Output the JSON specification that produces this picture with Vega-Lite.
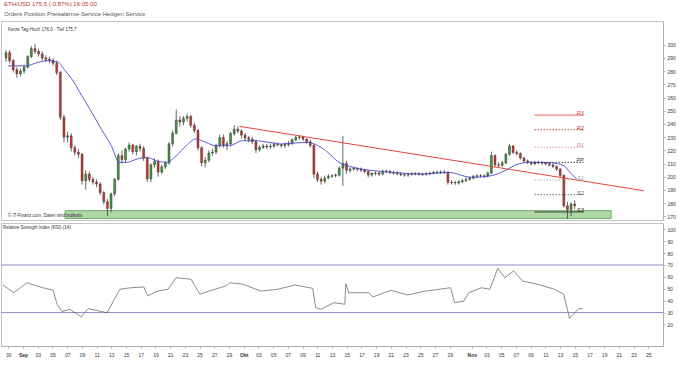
{
  "$schema": "https://vega.github.io/schema/vega-lite/v6.json",
  "padding": 0,
  "spacing": 1,
  "config": {
    "font": "Liberation Sans",
    "view": {"stroke": "#c4c4c4", "strokeWidth": 1},
    "axis": {"labelFontSize": 5, "labelColor": "#333", "domainColor": "#b0b0b0", "tickColor": "#b0b0b0", "tickSize": 2, "grid": false, "title": null}
  },
  "title": {
    "text": "ETH/USD    175,5  (-0,87%)   16:05:00",
    "subtitle": "Orders          Position          Preisalarme-Service          Hedgen Service",
    "anchor": "start", "fontSize": 6, "fontWeight": "normal", "color": "#c0392b",
    "subtitleFontSize": 6, "subtitleColor": "#555", "subtitlePadding": 4, "offset": 4, "dx": 4
  },
  "datasets": {
    "candles": [
      {"t":"2018-08-29T00:00","o":290,"h":296,"l":287,"c":294},
      {"t":"2018-08-29T12:00","o":294,"h":296,"l":286,"c":288},
      {"t":"2018-08-30T00:00","o":288,"h":289,"l":279,"c":281},
      {"t":"2018-08-30T12:00","o":281,"h":283,"l":275,"c":278},
      {"t":"2018-08-31T00:00","o":278,"h":282,"l":276,"c":280},
      {"t":"2018-08-31T12:00","o":280,"h":285,"l":278,"c":283},
      {"t":"2018-09-01T00:00","o":283,"h":292,"l":282,"c":291},
      {"t":"2018-09-01T12:00","o":291,"h":299,"l":290,"c":297},
      {"t":"2018-09-02T00:00","o":297,"h":300.5,"l":293,"c":295},
      {"t":"2018-09-02T12:00","o":295,"h":297,"l":291,"c":293},
      {"t":"2018-09-03T00:00","o":293,"h":295,"l":288,"c":290},
      {"t":"2018-09-03T12:00","o":290,"h":292,"l":287,"c":289},
      {"t":"2018-09-04T00:00","o":289,"h":291,"l":286,"c":288},
      {"t":"2018-09-04T12:00","o":288,"h":290,"l":284,"c":286},
      {"t":"2018-09-05T00:00","o":286,"h":288,"l":277,"c":279},
      {"t":"2018-09-05T12:00","o":279,"h":280,"l":243,"c":245},
      {"t":"2018-09-06T00:00","o":245,"h":247,"l":226,"c":230},
      {"t":"2018-09-06T12:00","o":230,"h":234,"l":226,"c":231},
      {"t":"2018-09-07T00:00","o":231,"h":233,"l":219,"c":222},
      {"t":"2018-09-07T12:00","o":222,"h":224,"l":216,"c":218.5},
      {"t":"2018-09-08T00:00","o":218.5,"h":221,"l":214,"c":217},
      {"t":"2018-09-08T12:00","o":217,"h":218,"l":194,"c":197},
      {"t":"2018-09-09T00:00","o":197,"h":205,"l":190,"c":202},
      {"t":"2018-09-09T12:00","o":202,"h":204,"l":196,"c":198},
      {"t":"2018-09-10T00:00","o":198,"h":200,"l":194,"c":196},
      {"t":"2018-09-10T12:00","o":196,"h":198,"l":192,"c":194.5},
      {"t":"2018-09-11T00:00","o":194.5,"h":196,"l":186,"c":188},
      {"t":"2018-09-11T12:00","o":188,"h":189,"l":179,"c":181},
      {"t":"2018-09-12T00:00","o":181,"h":183,"l":170,"c":176},
      {"t":"2018-09-12T12:00","o":176,"h":188,"l":173,"c":187},
      {"t":"2018-09-13T00:00","o":187,"h":199,"l":185,"c":198},
      {"t":"2018-09-13T12:00","o":198,"h":218,"l":197,"c":216},
      {"t":"2018-09-14T00:00","o":216,"h":220,"l":210,"c":213},
      {"t":"2018-09-14T12:00","o":213,"h":222,"l":211,"c":221},
      {"t":"2018-09-15T00:00","o":221,"h":226,"l":219,"c":224},
      {"t":"2018-09-15T12:00","o":224,"h":225,"l":217,"c":219},
      {"t":"2018-09-16T00:00","o":219,"h":224,"l":216,"c":223},
      {"t":"2018-09-16T12:00","o":223,"h":225,"l":219,"c":221.5},
      {"t":"2018-09-17T00:00","o":221.5,"h":223,"l":212,"c":214},
      {"t":"2018-09-17T12:00","o":214,"h":215,"l":196,"c":198.5},
      {"t":"2018-09-18T00:00","o":198.5,"h":210,"l":196,"c":209},
      {"t":"2018-09-18T12:00","o":209,"h":214,"l":207,"c":211.5},
      {"t":"2018-09-19T00:00","o":211.5,"h":213,"l":200,"c":203.5},
      {"t":"2018-09-19T12:00","o":203.5,"h":209,"l":202,"c":207.5},
      {"t":"2018-09-20T00:00","o":207.5,"h":212,"l":206,"c":210.5},
      {"t":"2018-09-20T12:00","o":210.5,"h":226,"l":209,"c":225},
      {"t":"2018-09-21T00:00","o":225,"h":235,"l":223,"c":233},
      {"t":"2018-09-21T12:00","o":233,"h":251,"l":232,"c":243},
      {"t":"2018-09-22T00:00","o":243,"h":246,"l":238,"c":241.5},
      {"t":"2018-09-22T12:00","o":241.5,"h":246,"l":239,"c":244.3},
      {"t":"2018-09-23T00:00","o":244.3,"h":248,"l":242,"c":245.7},
      {"t":"2018-09-23T12:00","o":245.7,"h":247,"l":237,"c":239},
      {"t":"2018-09-24T00:00","o":239,"h":241,"l":233,"c":235},
      {"t":"2018-09-24T12:00","o":235,"h":236,"l":220,"c":222},
      {"t":"2018-09-25T00:00","o":222,"h":223,"l":208,"c":210.6},
      {"t":"2018-09-25T12:00","o":210.6,"h":215,"l":207,"c":212.5},
      {"t":"2018-09-26T00:00","o":212.5,"h":220,"l":211,"c":218},
      {"t":"2018-09-26T12:00","o":218,"h":221,"l":216,"c":218.7},
      {"t":"2018-09-27T00:00","o":218.7,"h":225,"l":217,"c":223.7},
      {"t":"2018-09-27T12:00","o":223.7,"h":232,"l":222,"c":229.7},
      {"t":"2018-09-28T00:00","o":229.7,"h":232,"l":222,"c":224},
      {"t":"2018-09-28T12:00","o":224,"h":227,"l":220,"c":225},
      {"t":"2018-09-29T00:00","o":225,"h":234,"l":223,"c":232.7},
      {"t":"2018-09-29T12:00","o":232.7,"h":239,"l":231,"c":236},
      {"t":"2018-09-30T00:00","o":236,"h":238,"l":233,"c":234.6},
      {"t":"2018-09-30T12:00","o":234.6,"h":236,"l":229,"c":231.5},
      {"t":"2018-10-01T00:00","o":231.5,"h":233,"l":227,"c":229.4},
      {"t":"2018-10-01T12:00","o":229.4,"h":231,"l":226,"c":228.5},
      {"t":"2018-10-02T00:00","o":228.5,"h":230,"l":225,"c":226.6},
      {"t":"2018-10-02T12:00","o":226.6,"h":228,"l":218,"c":220.5},
      {"t":"2018-10-03T00:00","o":220.5,"h":224,"l":219,"c":222.2},
      {"t":"2018-10-03T12:00","o":222.2,"h":225,"l":221,"c":223.2},
      {"t":"2018-10-04T00:00","o":223.2,"h":225,"l":221,"c":222.6},
      {"t":"2018-10-04T12:00","o":222.6,"h":225,"l":221,"c":223},
      {"t":"2018-10-05T00:00","o":223,"h":226,"l":222,"c":224.5},
      {"t":"2018-10-05T12:00","o":224.5,"h":226,"l":223,"c":224.2},
      {"t":"2018-10-06T00:00","o":224.2,"h":225,"l":222,"c":223.6},
      {"t":"2018-10-06T12:00","o":223.6,"h":226,"l":222,"c":224.3},
      {"t":"2018-10-07T00:00","o":224.3,"h":227,"l":223,"c":225.3},
      {"t":"2018-10-07T12:00","o":225.3,"h":229,"l":224,"c":228},
      {"t":"2018-10-08T00:00","o":228,"h":231,"l":227,"c":229.8},
      {"t":"2018-10-08T12:00","o":229.8,"h":231.5,"l":228,"c":230.2},
      {"t":"2018-10-09T00:00","o":230.2,"h":231,"l":227,"c":228.5},
      {"t":"2018-10-09T12:00","o":228.5,"h":229,"l":225,"c":226.5},
      {"t":"2018-10-10T00:00","o":226.5,"h":228,"l":222,"c":223.7},
      {"t":"2018-10-10T12:00","o":223.7,"h":225,"l":199,"c":202},
      {"t":"2018-10-11T00:00","o":202,"h":204,"l":196,"c":198},
      {"t":"2018-10-11T12:00","o":198,"h":200,"l":194,"c":196.6},
      {"t":"2018-10-12T00:00","o":196.6,"h":201,"l":195,"c":199},
      {"t":"2018-10-12T12:00","o":199,"h":202,"l":198,"c":200.3},
      {"t":"2018-10-13T00:00","o":200.3,"h":202,"l":199,"c":200.8},
      {"t":"2018-10-13T12:00","o":200.8,"h":202.5,"l":199.5,"c":201.2},
      {"t":"2018-10-14T00:00","o":201.2,"h":208,"l":200,"c":206.5},
      {"t":"2018-10-14T12:00","o":206.5,"h":231,"l":193,"c":210},
      {"t":"2018-10-15T00:00","o":210,"h":212,"l":202,"c":204.9},
      {"t":"2018-10-15T12:00","o":204.9,"h":207,"l":203,"c":205.8},
      {"t":"2018-10-16T00:00","o":205.8,"h":207.5,"l":204.5,"c":206.2},
      {"t":"2018-10-16T12:00","o":206.2,"h":207,"l":204,"c":205.7},
      {"t":"2018-10-17T00:00","o":205.7,"h":207,"l":203.5,"c":205},
      {"t":"2018-10-17T12:00","o":205,"h":206,"l":202.5,"c":204},
      {"t":"2018-10-18T00:00","o":204,"h":205,"l":199.5,"c":201.3},
      {"t":"2018-10-18T12:00","o":201.3,"h":203.5,"l":200,"c":202.5},
      {"t":"2018-10-19T00:00","o":202.5,"h":204,"l":201,"c":202.8},
      {"t":"2018-10-19T12:00","o":202.8,"h":204,"l":200.5,"c":202},
      {"t":"2018-10-20T00:00","o":202,"h":205.5,"l":201,"c":204.2},
      {"t":"2018-10-20T12:00","o":204.2,"h":205.5,"l":202.5,"c":204},
      {"t":"2018-10-21T00:00","o":204,"h":205,"l":202,"c":203.2},
      {"t":"2018-10-21T12:00","o":203.2,"h":204.5,"l":201.5,"c":202.7},
      {"t":"2018-10-22T00:00","o":202.7,"h":204,"l":201,"c":202.2},
      {"t":"2018-10-22T12:00","o":202.2,"h":203.5,"l":200.5,"c":201.5},
      {"t":"2018-10-23T00:00","o":201.5,"h":202.5,"l":200,"c":201.2},
      {"t":"2018-10-23T12:00","o":201.2,"h":203,"l":200,"c":201.8},
      {"t":"2018-10-24T00:00","o":201.8,"h":203.5,"l":200.8,"c":202},
      {"t":"2018-10-24T12:00","o":202,"h":203.5,"l":201,"c":202.4},
      {"t":"2018-10-25T00:00","o":202.4,"h":203.5,"l":200.8,"c":202},
      {"t":"2018-10-25T12:00","o":202,"h":203,"l":200.5,"c":201.8},
      {"t":"2018-10-26T00:00","o":201.8,"h":203.5,"l":200.8,"c":202.3},
      {"t":"2018-10-26T12:00","o":202.3,"h":204,"l":201,"c":202.7},
      {"t":"2018-10-27T00:00","o":202.7,"h":204.5,"l":201.8,"c":203.1},
      {"t":"2018-10-27T12:00","o":203.1,"h":204.5,"l":202,"c":203.3},
      {"t":"2018-10-28T00:00","o":203.3,"h":204.8,"l":202,"c":203.5},
      {"t":"2018-10-28T12:00","o":203.5,"h":205,"l":202,"c":203.3},
      {"t":"2018-10-29T00:00","o":203.3,"h":204,"l":194,"c":195.8},
      {"t":"2018-10-29T12:00","o":195.8,"h":197.5,"l":194,"c":195.6},
      {"t":"2018-10-30T00:00","o":195.6,"h":197,"l":193.8,"c":195.3},
      {"t":"2018-10-30T12:00","o":195.3,"h":197.5,"l":194,"c":196.2},
      {"t":"2018-10-31T00:00","o":196.2,"h":198.5,"l":195,"c":197},
      {"t":"2018-10-31T12:00","o":197,"h":199.5,"l":196,"c":198},
      {"t":"2018-11-01T00:00","o":198,"h":200,"l":197,"c":198.9},
      {"t":"2018-11-01T12:00","o":198.9,"h":201.5,"l":198,"c":200.3},
      {"t":"2018-11-02T00:00","o":200.3,"h":202,"l":199.5,"c":200.7},
      {"t":"2018-11-02T12:00","o":200.7,"h":202,"l":199.5,"c":200.5},
      {"t":"2018-11-03T00:00","o":200.5,"h":201.8,"l":199,"c":200.6},
      {"t":"2018-11-03T12:00","o":200.6,"h":204,"l":199.5,"c":202.7},
      {"t":"2018-11-04T00:00","o":202.7,"h":219,"l":202,"c":216},
      {"t":"2018-11-04T12:00","o":216,"h":217,"l":207.5,"c":209},
      {"t":"2018-11-05T00:00","o":209,"h":211,"l":207,"c":208.7},
      {"t":"2018-11-05T12:00","o":208.7,"h":212,"l":207.5,"c":210.5},
      {"t":"2018-11-06T00:00","o":210.5,"h":218,"l":209.5,"c":217},
      {"t":"2018-11-06T12:00","o":217,"h":225,"l":216,"c":223.3},
      {"t":"2018-11-07T00:00","o":223.3,"h":224,"l":217,"c":218.5},
      {"t":"2018-11-07T12:00","o":218.5,"h":220,"l":216,"c":217.6},
      {"t":"2018-11-08T00:00","o":217.6,"h":218.5,"l":213,"c":214.2},
      {"t":"2018-11-08T12:00","o":214.2,"h":215,"l":210.5,"c":212},
      {"t":"2018-11-09T00:00","o":212,"h":213,"l":209.5,"c":210.8},
      {"t":"2018-11-09T12:00","o":210.8,"h":211.8,"l":208.5,"c":209.7},
      {"t":"2018-11-10T00:00","o":209.7,"h":212,"l":208.8,"c":210.8},
      {"t":"2018-11-10T12:00","o":210.8,"h":212,"l":209.5,"c":210.6},
      {"t":"2018-11-11T00:00","o":210.6,"h":211.5,"l":209,"c":210.3},
      {"t":"2018-11-11T12:00","o":210.3,"h":211.2,"l":208.5,"c":209.8},
      {"t":"2018-11-12T00:00","o":209.8,"h":211,"l":207.8,"c":208.9},
      {"t":"2018-11-12T12:00","o":208.9,"h":210,"l":206.5,"c":207.8},
      {"t":"2018-11-13T00:00","o":207.8,"h":208.5,"l":204.5,"c":205.8},
      {"t":"2018-11-13T12:00","o":205.8,"h":206.5,"l":199.5,"c":201},
      {"t":"2018-11-14T00:00","o":201,"h":202,"l":176.5,"c":178},
      {"t":"2018-11-14T12:00","o":178,"h":181,"l":168,"c":175.2},
      {"t":"2018-11-15T00:00","o":175.2,"h":180.5,"l":170,"c":179.3},
      {"t":"2018-11-15T12:00","o":179.3,"h":182,"l":175.5,"c":178}
    ],
    "ma": [
      {"t":"2018-08-29T06:00","v":284},{"t":"2018-08-31T17:00","v":284},{"t":"2018-09-02T11:00","v":286.7},
      {"t":"2018-09-03T20:00","v":288},{"t":"2018-09-05T05:00","v":286.7},{"t":"2018-09-06T04:00","v":280.3},
      {"t":"2018-09-07T02:00","v":274},{"t":"2018-09-08T11:00","v":261.4},{"t":"2018-09-09T20:00","v":248.8},
      {"t":"2018-09-11T04:00","v":236},{"t":"2018-09-12T13:00","v":223.5},{"t":"2018-09-13T15:00","v":210.9},
      {"t":"2018-09-14T17:00","v":210.9},{"t":"2018-09-16T02:00","v":213.4},{"t":"2018-09-17T10:00","v":214.7},
      {"t":"2018-09-18T19:00","v":212},{"t":"2018-09-20T04:00","v":210.9},{"t":"2018-09-21T12:00","v":215.9},
      {"t":"2018-09-22T21:00","v":223.5},{"t":"2018-09-24T05:00","v":228.6},{"t":"2018-09-25T14:00","v":226},
      {"t":"2018-09-26T23:00","v":223.5},{"t":"2018-09-28T20:00","v":223.5},{"t":"2018-09-30T15:00","v":227.3},
      {"t":"2018-10-02T09:00","v":227.3},{"t":"2018-10-04T07:00","v":226},{"t":"2018-10-06T01:00","v":224.8},
      {"t":"2018-10-07T19:00","v":225.5},{"t":"2018-10-09T17:00","v":226},{"t":"2018-10-11T02:00","v":223.5},
      {"t":"2018-10-12T10:00","v":218.5},{"t":"2018-10-13T19:00","v":211.5},{"t":"2018-10-15T23:00","v":207.1},
      {"t":"2018-10-18T16:00","v":204.6},{"t":"2018-10-21T10:00","v":203.3},{"t":"2018-10-25T11:00","v":202},
      {"t":"2018-10-29T03:00","v":203.3},{"t":"2018-11-01T06:00","v":199.5},{"t":"2018-11-04T00:00","v":200.8},
      {"t":"2018-11-05T21:00","v":204.6},{"t":"2018-11-07T16:00","v":209.6},{"t":"2018-11-09T10:00","v":210.9},
      {"t":"2018-11-12T03:00","v":210.6},{"t":"2018-11-14T01:00","v":208.3},{"t":"2018-11-14T20:00","v":203.3},
      {"t":"2018-11-15T19:00","v":198.3}
    ],
    "rsi": [
      {"t":"2018-08-29T06:00","v":53.2},{"t":"2018-08-30T18:00","v":46.7},{"t":"2018-09-01T13:00","v":55.1},
      {"t":"2018-09-03T07:00","v":51.5},{"t":"2018-09-05T02:00","v":48.7},{"t":"2018-09-05T15:00","v":37},
      {"t":"2018-09-06T07:00","v":30.8},{"t":"2018-09-07T09:00","v":32.8},{"t":"2018-09-08T21:00","v":26.3},
      {"t":"2018-09-09T20:00","v":33.3},{"t":"2018-09-10T22:00","v":31.9},{"t":"2018-09-12T10:00","v":29.9},
      {"t":"2018-09-14T04:00","v":49.6},{"t":"2018-09-15T16:00","v":50.9},{"t":"2018-09-17T10:00","v":51.5},
      {"t":"2018-09-17T23:00","v":44},{"t":"2018-09-19T05:00","v":48},{"t":"2018-09-20T17:00","v":49.6},
      {"t":"2018-09-21T19:00","v":59.3},{"t":"2018-09-23T20:00","v":58},{"t":"2018-09-25T01:00","v":45.4},
      {"t":"2018-09-26T06:00","v":48},{"t":"2018-09-28T14:00","v":52.4},{"t":"2018-09-29T03:00","v":55.1},
      {"t":"2018-09-30T21:00","v":53.8},{"t":"2018-10-03T08:00","v":48},{"t":"2018-10-05T15:00","v":49.6},
      {"t":"2018-10-07T23:00","v":53.2},{"t":"2018-10-10T09:00","v":50.4},{"t":"2018-10-10T19:00","v":34.1},
      {"t":"2018-10-11T12:00","v":32.8},{"t":"2018-10-13T06:00","v":38.3},{"t":"2018-10-14T18:00","v":37},
      {"t":"2018-10-14T21:00","v":54.3},{"t":"2018-10-15T07:00","v":46.7},{"t":"2018-10-18T00:00","v":46.7},
      {"t":"2018-10-18T13:00","v":43.1},{"t":"2018-10-21T00:00","v":48.7},{"t":"2018-10-23T07:00","v":44.8},
      {"t":"2018-10-25T15:00","v":48},{"t":"2018-10-29T03:00","v":50.9},{"t":"2018-10-29T16:00","v":38.3},
      {"t":"2018-10-30T22:00","v":39.6},{"t":"2018-10-31T14:00","v":46.7},{"t":"2018-11-02T08:00","v":50.9},
      {"t":"2018-11-03T11:00","v":49.6},{"t":"2018-11-04T13:00","v":67.2},{"t":"2018-11-05T12:00","v":59.3},
      {"t":"2018-11-06T17:00","v":65},{"t":"2018-11-07T22:00","v":56.5},{"t":"2018-11-09T23:00","v":53.8},
      {"t":"2018-11-12T06:00","v":49.6},{"t":"2018-11-13T12:00","v":45.4},{"t":"2018-11-14T07:00","v":25.2},
      {"t":"2018-11-15T00:00","v":29.9},{"t":"2018-11-15T13:00","v":33.5},{"t":"2018-11-16T02:00","v":33.2}
    ],
    "piv": [
      {"lvl":"R3","p":246.7,"t1":"2018-11-09T23:00","t2":"2018-11-16T18:00"},
      {"lvl":"R2","p":235.6,"t1":"2018-11-09T23:00","t2":"2018-11-16T18:00"},
      {"lvl":"R1","p":222.3,"t1":"2018-11-09T23:00","t2":"2018-11-16T18:00"},
      {"lvl":"PP","p":210.9,"t1":"2018-11-09T23:00","t2":"2018-11-16T18:00"},
      {"lvl":"S1","p":197.5,"t1":"2018-11-09T23:00","t2":"2018-11-16T18:00"},
      {"lvl":"S2","p":186.4,"t1":"2018-11-09T23:00","t2":"2018-11-16T18:00"},
      {"lvl":"S3","p":173.3,"t1":"2018-11-09T23:00","t2":"2018-11-16T18:00"}
    ]
  },
  "vconcat": [
    {
      "width": 662,
      "height": 199,
      "layer": [
        {
          "data": {"values": [{"t1":"2018-09-06T04:00","t2":"2018-11-20T13:00","p1":168.4,"p2":174.3}]},
          "mark": {"type": "rect", "fill": "#a9d39e", "fillOpacity": 0.9, "stroke": "#4f9a4a", "strokeWidth": 0.8},
          "encoding": {
            "x": {"field": "t1", "type": "temporal", "scale": {"domain": ["2018-08-29T00:00", "2018-11-27T00:00"]}, "axis": null},
            "x2": {"field": "t2"},
            "y": {"field": "p1", "type": "quantitative", "scale": {"domain": [167.2, 318], "zero": false, "nice": false},
                  "axis": {"orient": "right", "tickCount": 100, "labelOverlap": false, "labelFlush": false, "values": [170,180,190,200,210,220,230,240,250,260,270,280,290,300]}},
            "y2": {"field": "p2"}
          }
        },
        {
          "data": {"name": "candles"},
          "mark": {"type": "rule", "color": "#2a2a2a", "strokeWidth": 0.7},
          "encoding": {
            "x": {"field": "t", "type": "temporal"},
            "y": {"field": "l", "type": "quantitative"},
            "y2": {"field": "h"}
          }
        },
        {
          "data": {"name": "candles"},
          "mark": {"type": "bar", "size": 2, "stroke": "#1e1e1e", "strokeWidth": 0.4},
          "encoding": {
            "x": {"field": "t", "type": "temporal"},
            "y": {"field": "o", "type": "quantitative"},
            "y2": {"field": "c"},
            "color": {"condition": {"test": "datum.c >= datum.o", "value": "#3f9b3f"}, "value": "#cc3a2e"}
          }
        },
        {
          "data": {"name": "ma"},
          "mark": {"type": "line", "color": "#4848cc", "strokeWidth": 0.9, "interpolate": "monotone"},
          "encoding": {
            "x": {"field": "t", "type": "temporal"},
            "y": {"field": "v", "type": "quantitative"}
          }
        },
        {
          "data": {"values": [{"t1":"2018-09-30T05:00","p1":238.2,"t2":"2018-11-25T01:00","p2":189.4}]},
          "mark": {"type": "rule", "color": "#e8453c", "strokeWidth": 1},
          "encoding": {
            "x": {"field": "t1", "type": "temporal"},
            "x2": {"field": "t2"},
            "y": {"field": "p1", "type": "quantitative"},
            "y2": {"field": "p2"}
          }
        },
        {
          "data": {"name": "piv"},
          "mark": {"type": "rule", "strokeWidth": 0.9},
          "encoding": {
            "x": {"field": "t1", "type": "temporal"},
            "x2": {"field": "t2"},
            "y": {"field": "p", "type": "quantitative"},
            "color": {"field": "lvl", "type": "nominal", "legend": null,
                      "scale": {"domain": ["R3","R2","R1","PP","S1","S2","S3"], "range": ["#e03c31","#b8332b","#e08a8a","#333333","#aaaaaa","#4d6e4d","#1e1e1e"]}},
            "strokeDash": {"field": "lvl", "type": "nominal", "legend": null,
                           "scale": {"domain": ["R3","R2","R1","PP","S1","S2","S3"], "range": [[1,0],[1.5,1.5],[1.5,1.5],[1.5,1.5],[1.5,1.5],[1.5,1.5],[1,0]]}}
          }
        },
        {
          "data": {"name": "piv"},
          "mark": {"type": "text", "align": "right", "baseline": "bottom", "dy": 1, "fontSize": 5.5, "fontStyle": "italic"},
          "encoding": {
            "x": {"field": "t2", "type": "temporal"},
            "y": {"field": "p", "type": "quantitative"},
            "text": {"field": "lvl"},
            "color": {"field": "lvl", "type": "nominal", "legend": null,
                      "scale": {"domain": ["R3","R2","R1","PP","S1","S2","S3"], "range": ["#e03c31","#b8332b","#e08a8a","#333333","#aaaaaa","#4d6e4d","#1e1e1e"]}}
          }
        },
        {
          "data": {"values": [{"t":"2018-08-29T00:00","p":318,"txt":"Kerze   Tag-Hoch 176,0 - Tief 175,7"}]},
          "mark": {"type": "text", "align": "left", "baseline": "top", "dx": 2, "dy": 6, "fontSize": 4.5, "color": "#333"},
          "encoding": {
            "x": {"field": "t", "type": "temporal"},
            "y": {"field": "p", "type": "quantitative"},
            "text": {"field": "txt"}
          }
        },
        {
          "data": {"values": [{"t":"2018-08-29T00:00","p":167.2,"txt":"© IT-Finanz.com, Daten sind indikativ"}]},
          "mark": {"type": "text", "align": "left", "baseline": "bottom", "dx": 2, "dy": -2, "fontSize": 4.5, "color": "#333"},
          "encoding": {
            "x": {"field": "t", "type": "temporal"},
            "y": {"field": "p", "type": "quantitative"},
            "text": {"field": "txt"}
          }
        }
      ]
    },
    {
      "width": 662,
      "height": 123,
      "layer": [
        {
          "data": {"values": [{"v": 70}, {"v": 30}]},
          "mark": {"type": "rule", "color": "#8d8dc6", "strokeWidth": 1},
          "encoding": {
            "y": {"field": "v", "type": "quantitative", "scale": {"domain": [1.9, 105.3], "zero": false, "nice": false},
                  "axis": {"orient": "right", "tickCount": 100, "labelOverlap": false, "labelFlush": false, "values": [20,30,40,50,60,70,80,90,100]}}
          }
        },
        {
          "data": {"name": "rsi"},
          "mark": {"type": "line", "color": "#5a5a5a", "strokeWidth": 0.7},
          "encoding": {
            "x": {"field": "t", "type": "temporal", "scale": {"domain": ["2018-08-29T00:00", "2018-11-27T00:00"]},
                  "axis": {
                    "orient": "bottom", "labelPadding": 4, "tickSize": 2, "tickCount": 200, "labelOverlap": false, "labelFlush": false,
                    "values": [
                      {"year":2018,"month":8,"date":30},{"year":2018,"month":9,"date":1},{"year":2018,"month":9,"date":3},
                      {"year":2018,"month":9,"date":5},{"year":2018,"month":9,"date":7},{"year":2018,"month":9,"date":9},
                      {"year":2018,"month":9,"date":11},{"year":2018,"month":9,"date":13},{"year":2018,"month":9,"date":15},
                      {"year":2018,"month":9,"date":17},{"year":2018,"month":9,"date":19},{"year":2018,"month":9,"date":21},
                      {"year":2018,"month":9,"date":23},{"year":2018,"month":9,"date":25},{"year":2018,"month":9,"date":27},
                      {"year":2018,"month":9,"date":29},{"year":2018,"month":10,"date":1},{"year":2018,"month":10,"date":3},
                      {"year":2018,"month":10,"date":5},{"year":2018,"month":10,"date":7},{"year":2018,"month":10,"date":9},
                      {"year":2018,"month":10,"date":11},{"year":2018,"month":10,"date":13},{"year":2018,"month":10,"date":15},
                      {"year":2018,"month":10,"date":17},{"year":2018,"month":10,"date":19},{"year":2018,"month":10,"date":21},
                      {"year":2018,"month":10,"date":23},{"year":2018,"month":10,"date":25},{"year":2018,"month":10,"date":27},
                      {"year":2018,"month":10,"date":29},{"year":2018,"month":11,"date":1},{"year":2018,"month":11,"date":3},
                      {"year":2018,"month":11,"date":5},{"year":2018,"month":11,"date":7},{"year":2018,"month":11,"date":9},
                      {"year":2018,"month":11,"date":11},{"year":2018,"month":11,"date":13},{"year":2018,"month":11,"date":15},
                      {"year":2018,"month":11,"date":17},{"year":2018,"month":11,"date":19},{"year":2018,"month":11,"date":21},
                      {"year":2018,"month":11,"date":23},{"year":2018,"month":11,"date":25}
                    ],
                    "labelExpr": "date(datum.value) == 1 ? ['Jan','Feb','Mär','Apr','Mai','Jun','Jul','Aug','Sep','Okt','Nov','Dez'][month(datum.value)] : timeFormat(datum.value, '%d')",
                    "labelFontWeight": {"condition": {"test": "date(datum.value) == 1", "value": "bold"}, "value": "normal"}
                  }},
            "y": {"field": "v", "type": "quantitative"}
          }
        },
        {
          "data": {"values": [{"t":"2018-08-29T00:00","v":105.3,"txt":"Relative Strength Index (RSI) (14)"}]},
          "mark": {"type": "text", "align": "left", "baseline": "top", "dx": 2, "dy": 2, "fontSize": 4.5, "color": "#333"},
          "encoding": {
            "x": {"field": "t", "type": "temporal"},
            "y": {"field": "v", "type": "quantitative"},
            "text": {"field": "txt"}
          }
        }
      ]
    }
  ]
}
